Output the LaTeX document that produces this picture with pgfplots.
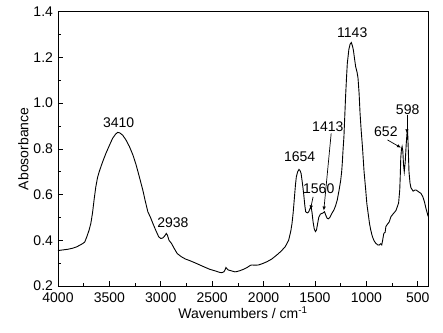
\documentclass[border=0pt]{standalone}
\usepackage{fontspec}
\setmainfont{Liberation Sans}
\usepackage{pgfplots}
\pgfplotsset{compat=1.18}
\usetikzlibrary{arrows.meta}
\pgfplotstableread{
wn A
4000 0.355
3950 0.358
3900 0.361
3860 0.365
3820 0.371
3790 0.378
3762 0.385
3740 0.392
3720 0.415
3697 0.445
3680 0.475
3664 0.520
3648 0.580
3632 0.634
3615 0.675
3599 0.700
3580 0.725
3560 0.750
3534 0.780
3500 0.815
3469 0.846
3440 0.864
3420 0.872
3400 0.870
3371 0.860
3340 0.840
3305 0.810
3270 0.772
3240 0.730
3210 0.680
3175 0.620
3150 0.570
3126 0.525
3100 0.500
3077 0.474
3050 0.445
3020 0.415
3000 0.408
2980 0.410
2960 0.420
2946 0.430
2935 0.422
2920 0.400
2897 0.387
2870 0.365
2840 0.342
2800 0.328
2760 0.318
2718 0.311
2670 0.302
2620 0.292
2570 0.282
2523 0.273
2470 0.266
2430 0.260
2408 0.258
2386 0.262
2375 0.270
2366 0.281
2355 0.275
2343 0.270
2310 0.266
2280 0.262
2261 0.263
2230 0.267
2196 0.273
2160 0.281
2130 0.290
2115 0.292
2080 0.291
2050 0.292
2010 0.298
1968 0.306
1920 0.318
1870 0.336
1830 0.352
1789 0.372
1756 0.400
1735 0.440
1723 0.474
1712 0.520
1700 0.585
1690 0.640
1681 0.678
1668 0.700
1655 0.710
1645 0.705
1635 0.693
1622 0.650
1610 0.605
1598 0.550
1590 0.525
1583 0.522
1572 0.520
1560 0.525
1547 0.540
1537 0.547
1528 0.520
1518 0.480
1507 0.450
1495 0.438
1485 0.445
1475 0.470
1463 0.500
1446 0.515
1430 0.518
1420 0.520
1407 0.525
1395 0.510
1381 0.496
1368 0.494
1355 0.500
1335 0.518
1316 0.532
1300 0.550
1283 0.576
1265 0.620
1250 0.660
1240 0.700
1234 0.737
1226 0.800
1218 0.853
1210 0.940
1202 1.028
1193 1.110
1185 1.174
1170 1.235
1158 1.258
1146 1.265
1135 1.250
1126 1.232
1115 1.195
1104 1.160
1090 1.135
1081 1.110
1070 1.040
1061 0.955
1050 0.880
1038 0.810
1022 0.700
1006 0.620
995 0.560
980 0.510
968 0.470
957 0.445
948 0.428
940 0.415
925 0.398
908 0.387
890 0.380
875 0.379
860 0.385
850 0.380
842 0.398
830 0.430
817 0.435
810 0.460
795 0.470
778 0.480
761 0.503
740 0.515
712 0.530
700 0.545
686 0.563
675 0.620
670 0.680
665 0.760
658 0.800
652 0.810
645 0.790
638 0.730
631 0.700
622 0.740
612 0.820
604 0.870
598 0.875
592 0.800
585 0.700
575 0.650
566 0.630
545 0.615
525 0.620
517 0.620
500 0.615
485 0.610
468 0.605
450 0.590
435 0.569
420 0.540
402 0.510
400 0.505
}\spectrum
\begin{document}
\begin{tikzpicture}
\begin{axis}[
  at={(0,0)}, anchor=south west,
  scale only axis,
  width=370pt, height=274.3pt,
  x dir=reverse,
  xmin=400, xmax=4000,
  ymin=0.2, ymax=1.4,
  xtick={500,1000,...,4000},
  ytick={0.2,0.4,...,1.4},
  minor x tick num=1,
  minor y tick num=1,
  xtick pos=bottom, ytick pos=left,
  tick align=inside,
  major tick length=5pt, minor tick length=3pt,
  tick style={black, line width=0.6pt},
  axis line style={line width=0.8pt},
  /pgf/number format/assume math mode=true,
  yticklabel style={xshift=-1.5pt, /pgf/number format/.cd, fixed, fixed zerofill, precision=1},
  xticklabel style={yshift=-3pt, /pgf/number format/.cd, set thousands separator={}},
  tick label style={font=\fontsize{14}{16}\selectfont},
  label style={font=\fontsize{14}{16}\selectfont},
  xlabel={Wavenumbers / cm\textsuperscript{-1}},
  ylabel={Abosorbance},
  xlabel style={yshift=3pt},
  ylabel style={yshift=-2pt},
]
\addplot[black, line width=0.9pt, mark=none] table[x=wn, y=A] {\spectrum};
\node[font=\fontsize{14}{16}\selectfont] at (axis cs:3410,0.914) {3410};
\node[font=\fontsize{14}{16}\selectfont] at (axis cs:2882,0.477) {2938};
\node[font=\fontsize{14}{16}\selectfont] at (axis cs:1649,0.766) {1654};
\node[font=\fontsize{14}{16}\selectfont] at (axis cs:1463,0.627) {1560};
\node[font=\fontsize{14}{16}\selectfont] at (axis cs:1375,0.897) {1413};
\node[font=\fontsize{14}{16}\selectfont] at (axis cs:1137,1.308) {1143};
\node[font=\fontsize{14}{16}\selectfont] at (axis cs:810,0.875) {652};
\node[font=\fontsize{14}{16}\selectfont] at (axis cs:598,0.973) {598};
\draw[line width=0.7pt, -{Latex[length=4pt,width=3.5pt]}] (axis cs:1518,0.59) -- (axis cs:1544,0.535);
\draw[line width=0.7pt, -{Latex[length=4pt,width=3.5pt]}] (axis cs:1342,0.868) -- (axis cs:1414,0.530);
\draw[line width=0.7pt, -{Latex[length=4pt,width=3.5pt]}] (axis cs:794,0.839) -- (axis cs:663,0.805);
\draw[line width=0.7pt, -{Latex[length=4pt,width=3.5pt]}] (axis cs:605,0.948) -- (axis cs:605,0.868);
\end{axis}
\path (-58pt,-46pt) rectangle (385pt,286pt);
\end{tikzpicture}
\end{document}
